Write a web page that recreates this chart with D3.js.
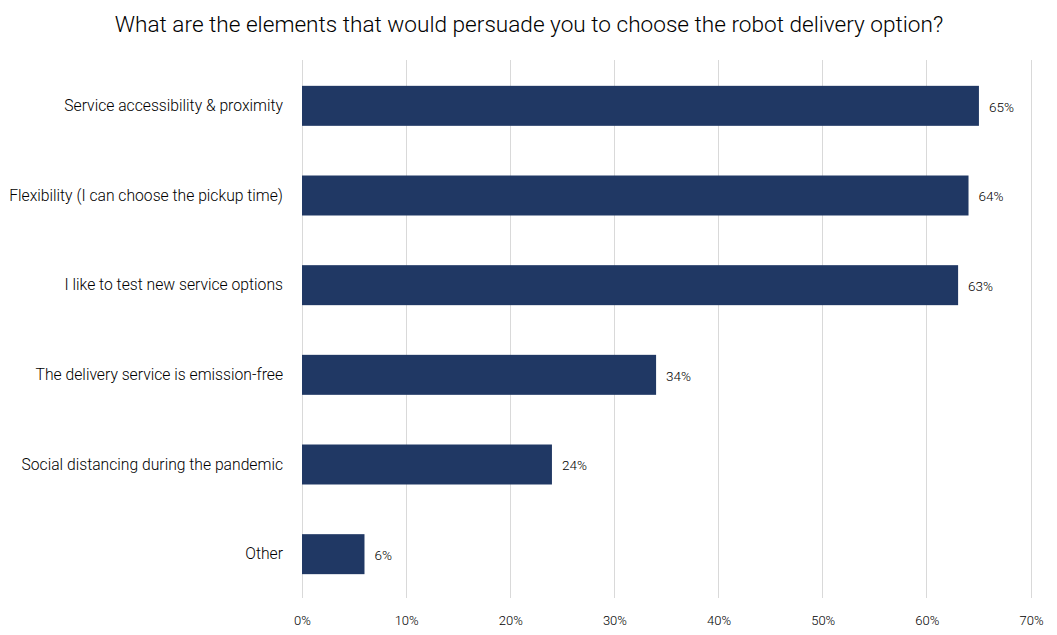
<!DOCTYPE html>
<html><head><meta charset="utf-8">
<script src="https://cdn.jsdelivr.net/npm/d3@7"></script>
<style>
body{margin:0;background:#fff;}
text{font-family:"Roboto",sans-serif;font-weight:300;fill:#000;}
</style></head>
<body><svg id="c" width="1057" height="635"></svg>
<script>
const title = "What are the elements that would persuade you to choose the robot delivery option?";
const categories = ["Service accessibility & proximity","Flexibility (I can choose the pickup time)","I like to test new service options","The delivery service is emission-free","Social distancing during the pandemic","Other"];
const values = [65,64,63,34,24,6];
const ticks = [0,10,20,30,40,50,60,70];

const svg = d3.select("#c");
const m = {l:302, r:1031, t:61, b:599};
const x = d3.scaleLinear().domain([0,70]).range([m.l,m.r]);
const y = d3.scaleBand().domain(categories).range([m.t,m.b]).paddingInner(0.554).paddingOuter(0.277);

svg.append("g").selectAll("line").data(ticks).join("line")
  .attr("x1",d=>x(d)).attr("x2",d=>x(d)).attr("y1",60).attr("y2",598)
  .attr("stroke","#d9d9d9").attr("stroke-width",1).attr("shape-rendering","crispEdges");

const xa = svg.append("g").attr("transform",`translate(0,598)`)
  .call(d3.axisBottom(x).tickValues(ticks).tickFormat(d=>d+"%").tickSize(0).tickPadding(18));
xa.select(".domain").remove();
xa.selectAll("text").style("font-size","13px").style("font-family","Roboto,sans-serif").style("font-weight","300").attr("fill","#000");

svg.append("g").selectAll("rect").data(values).join("rect")
  .attr("x",x(0)).attr("y",(d,i)=>y(categories[i])).attr("width",d=>x(d)-x(0)).attr("height",y.bandwidth())
  .attr("fill","#203864");

const ya = svg.append("g").attr("transform",`translate(${m.l},0)`)
  .call(d3.axisLeft(y).tickSize(0).tickPadding(19));
ya.select(".domain").remove();
ya.selectAll("text").style("font-size","15.7px").style("font-family","Roboto,sans-serif").style("font-weight","300").attr("fill","#000");

svg.append("g").selectAll("text").data(values).join("text")
  .attr("x",d=>x(d)+10).attr("y",(d,i)=>y(categories[i])+y.bandwidth()/2+1).attr("dy","0.35em")
  .style("font-size","13.5px").text(d=>d+"%");

svg.append("text").attr("x",529).attr("y",32).attr("text-anchor","middle").style("font-size","22.6px").text(title);
</script></body></html>
